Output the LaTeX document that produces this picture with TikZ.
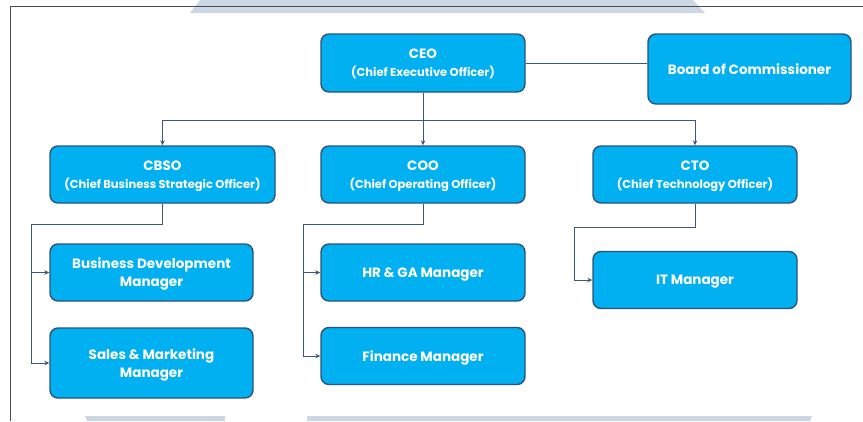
\documentclass[tikz,border=0pt]{standalone}
\usepackage{fontspec}
\setmainfont{Poppins}
\usetikzlibrary{arrows.meta}
\definecolor{isikotak}{HTML}{00B0F0}
\definecolor{tepikotak}{HTML}{2B527E}
\definecolor{garisbiru}{HTML}{3B5878}
\definecolor{bayang}{HTML}{CBD8E4}
\newcommand{\kecil}{\fontsize{11.5}{17}\selectfont}
\tikzset{
  jabatan/.style={draw=tepikotak, line width=1.4pt, fill=isikotak, rounded corners=8pt,
    text=white, align=center, inner sep=0pt, text depth=0pt,
    font=\bfseries\fontsize{13.5}{18}\selectfont},
  garis/.style={draw=garisbiru, line width=1pt},
  panah/.style={garis, -{Stealth[length=5pt,width=4.5pt]}}
}
\begin{document}
\begin{tikzpicture}[x=1pt, y=-1pt]
  \useasboundingbox (0,0) rectangle (863,421);
  % bayangan latar
  \fill[bayang] (200,0) -- (693,0) -- (705,13) -- (190,13) -- cycle;
  \fill[bayang] (85,416) -- (225,416) -- (225,421) -- (87,421) -- cycle;
  \fill[bayang] (307,416) -- (812,416) -- (810,421) -- (307,421) -- cycle;
  % bingkai
  \draw[color=black!70, line width=1pt] (10,421) -- (10,6) -- (863,6);

  % tingkat atas
  \node[jabatan, minimum width=204, minimum height=58] (ceo) at (423,63)
    {CEO\\{\kecil (Chief Executive Officer)}};
  \node[jabatan, minimum width=203, minimum height=70] (board) at (749.5,69)
    {Board of Commissioner};

  % tingkat kedua
  \node[jabatan, minimum width=225, minimum height=57] (cbso) at (162.5,174.5)
    {CBSO\\{\kecil (Chief Business Strategic Officer)}};
  \node[jabatan, minimum width=204, minimum height=57] (coo) at (423,174.5)
    {COO\\{\kecil (Chief Operating Officer)}};
  \node[jabatan, minimum width=204, minimum height=57] (cto) at (695,174.5)
    {CTO\\{\kecil (Chief Technology Officer)}};

  % manajer
  \node[jabatan, minimum width=203, minimum height=57] (bdm) at (151.5,272.5)
    {Business Development\\Manager};
  \node[jabatan, minimum width=203, minimum height=70] (sm) at (151.5,363)
    {Sales \& Marketing\\Manager};
  \node[jabatan, minimum width=204, minimum height=57] (hr) at (423,272.5)
    {HR \& GA Manager};
  \node[jabatan, minimum width=204, minimum height=57] (fin) at (423,356)
    {Finance Manager};
  \node[jabatan, minimum width=204, minimum height=57] (it) at (695,280)
    {IT Manager};

  % hubungan
  \coordinate (bus) at (423,120);
  \coordinate (b1) at (31,224);
  \coordinate (b2) at (303,224);
  \coordinate (b3) at (574,227);

  \draw[garis] (ceo.east) -- (ceo.east -| board.west);
  \draw[panah] (ceo.south) -- (coo.north);
  \draw[garis] (bus -| cbso.north) -- (bus -| cto.north);
  \draw[panah] (bus -| cbso.north) -- (cbso.north);
  \draw[panah] (bus -| cto.north) -- (cto.north);

  \draw[panah] (cbso.south) |- (b1) |- (bdm.west);
  \draw[panah] (b1) |- (sm.west);
  \draw[panah] (coo.south) |- (b2) |- (hr.west);
  \draw[panah] (b2) |- (fin.west);
  \draw[panah] (cto.south) |- (b3) |- (it.west);
\end{tikzpicture}
\end{document}
